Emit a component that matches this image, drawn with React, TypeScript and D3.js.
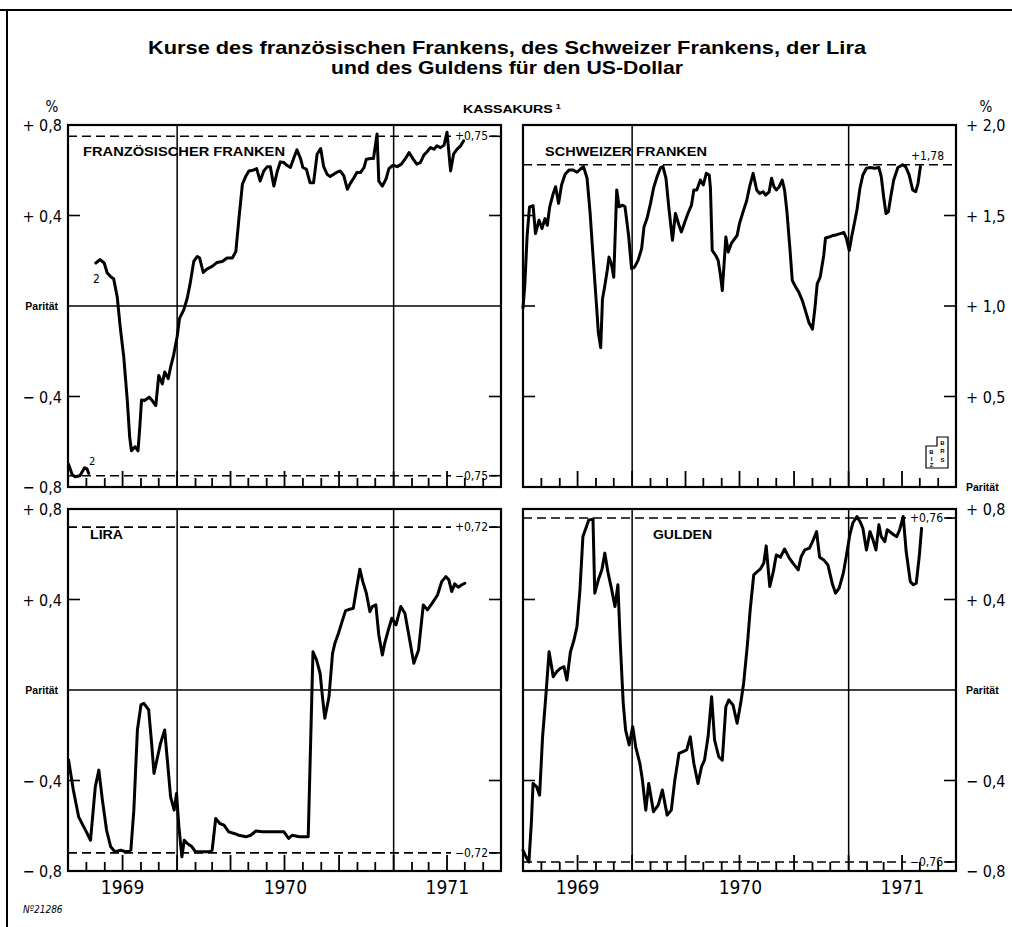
import React from 'react';
import * as d3 from 'd3';

// ---- data (weekly readings, % deviation from parity) ----
const titleLines = [
  'Kurse des französischen Frankens, des Schweizer Frankens, der Lira',
  'und des Guldens für den US-Dollar',
];
const years = ['1969', '1970', '1971'];

type Pt = [string, number];

const franzAlt: Pt[] = [
  ['1969-07-02', -0.70], ['1969-07-08', -0.745], ['1969-07-13', -0.755], ['1969-07-21', -0.75],
  ['1969-07-29', -0.715], ['1969-08-02', -0.72], ['1969-08-05', -0.74],
];

const franzNeu: Pt[] = [
  ['1969-08-17', 0.19], ['1969-08-24', 0.205], ['1969-08-31', 0.19], ['1969-09-05', 0.147],
  ['1969-09-11', 0.129], ['1969-09-16', 0.12], ['1969-09-22', 0.04], ['1969-09-27', -0.092],
  ['1969-10-03', -0.225], ['1969-10-09', -0.418], ['1969-10-13', -0.58], ['1969-10-16', -0.64],
  ['1969-10-22', -0.622], ['1969-10-27', -0.64], ['1969-10-30', -0.536], ['1969-11-02', -0.415],
  ['1969-11-07', -0.418], ['1969-11-15', -0.403], ['1969-11-20', -0.418], ['1969-11-26', -0.44],
  ['1969-12-01', -0.307], ['1969-12-07', -0.344], ['1969-12-11', -0.292], ['1969-12-17', -0.321],
  ['1969-12-21', -0.27], ['1969-12-26', -0.218], ['1970-01-01', -0.136], ['1970-01-05', -0.055],
  ['1970-01-12', -0.018], ['1970-01-18', 0.034], ['1970-01-23', 0.10], ['1970-01-29', 0.197],
  ['1970-02-04', 0.219], ['1970-02-08', 0.212], ['1970-02-14', 0.148], ['1970-02-20', 0.163],
  ['1970-03-01', 0.175], ['1970-03-09', 0.192], ['1970-03-18', 0.197], ['1970-03-26', 0.212],
  ['1970-04-04', 0.212], ['1970-04-10', 0.241], ['1970-04-15', 0.382], ['1970-04-21', 0.538],
  ['1970-04-27', 0.575], ['1970-05-02', 0.597], ['1970-05-09', 0.60], ['1970-05-15', 0.607],
  ['1970-05-21', 0.552], ['1970-05-27', 0.597], ['1970-06-02', 0.616], ['1970-06-07', 0.616],
  ['1970-06-13', 0.53], ['1970-06-19', 0.597], ['1970-06-24', 0.637], ['1970-06-30', 0.634],
  ['1970-07-05', 0.622], ['1970-07-11', 0.612], ['1970-07-17', 0.656], ['1970-07-22', 0.69],
  ['1970-07-28', 0.652], ['1970-08-01', 0.612], ['1970-08-07', 0.604], ['1970-08-13', 0.545],
  ['1970-08-19', 0.545], ['1970-08-25', 0.671], ['1970-08-31', 0.696], ['1970-09-05', 0.616],
  ['1970-09-11', 0.582], ['1970-09-16', 0.572], ['1970-09-22', 0.582], ['1970-09-28', 0.592],
  ['1970-10-03', 0.597], ['1970-10-09', 0.575], ['1970-10-15', 0.516], ['1970-10-20', 0.542],
  ['1970-10-26', 0.567], ['1970-10-31', 0.59], ['1970-11-06', 0.59], ['1970-11-12', 0.612],
  ['1970-11-16', 0.649], ['1970-11-23', 0.652], ['1970-11-28', 0.652], ['1970-12-04', 0.76],
  ['1970-12-07', 0.552], ['1970-12-13', 0.53], ['1970-12-19', 0.56], ['1970-12-24', 0.607],
  ['1970-12-31', 0.622], ['1971-01-07', 0.616], ['1971-01-14', 0.627], ['1971-01-21', 0.652],
  ['1971-01-27', 0.678], ['1971-02-03', 0.649], ['1971-02-09', 0.627], ['1971-02-15', 0.634],
  ['1971-02-21', 0.667], ['1971-02-26', 0.681], ['1971-03-04', 0.70], ['1971-03-10', 0.693],
  ['1971-03-15', 0.708], ['1971-03-21', 0.70], ['1971-03-27', 0.711], ['1971-04-01', 0.768],
  ['1971-04-07', 0.597], ['1971-04-12', 0.671], ['1971-04-18', 0.693], ['1971-04-24', 0.708],
  ['1971-04-29', 0.73],
];

const schweiz: Pt[] = [
  ['1969-07-01', 0.99], ['1969-07-04', 1.113], ['1969-07-08', 1.39], ['1969-07-12', 1.548],
  ['1969-07-18', 1.554], ['1969-07-22', 1.40], ['1969-07-28', 1.474], ['1969-08-02', 1.428],
  ['1969-08-07', 1.483], ['1969-08-11', 1.446], ['1969-08-15', 1.548], ['1969-08-21', 1.622],
  ['1969-08-25', 1.659], ['1969-08-30', 1.567], ['1969-09-04', 1.668], ['1969-09-10', 1.728],
  ['1969-09-17', 1.752], ['1969-09-23', 1.752], ['1969-09-30', 1.739], ['1969-10-06', 1.757],
  ['1969-10-11', 1.77], ['1969-10-17', 1.706], ['1969-10-22', 1.52], ['1969-10-27', 1.279],
  ['1969-11-02', 1.0], ['1969-11-05', 0.854], ['1969-11-09', 0.77], ['1969-11-12', 1.039],
  ['1969-11-16', 1.113], ['1969-11-20', 1.196], ['1969-11-23', 1.27], ['1969-11-27', 1.233],
  ['1969-12-01', 1.159], ['1969-12-06', 1.641], ['1969-12-10', 1.548], ['1969-12-16', 1.557],
  ['1969-12-20', 1.548], ['1969-12-26', 1.39], ['1969-12-31', 1.206], ['1970-01-05', 1.215],
  ['1970-01-11', 1.252], ['1970-01-17', 1.317], ['1970-01-21', 1.437], ['1970-01-26', 1.483],
  ['1970-02-01', 1.567], ['1970-02-06', 1.65], ['1970-02-12', 1.715], ['1970-02-18', 1.765],
  ['1970-02-22', 1.77], ['1970-02-27', 1.706], ['1970-03-04', 1.539], ['1970-03-10', 1.363],
  ['1970-03-15', 1.511], ['1970-03-21', 1.446], ['1970-03-25', 1.409], ['1970-03-31', 1.465],
  ['1970-04-05', 1.511], ['1970-04-11', 1.557], ['1970-04-15', 1.641], ['1970-04-20', 1.641],
  ['1970-04-26', 1.696], ['1970-05-01', 1.669], ['1970-05-06', 1.733], ['1970-05-11', 1.724],
  ['1970-05-13', 1.65], ['1970-05-16', 1.307], ['1970-05-22', 1.279], ['1970-05-26', 1.252],
  ['1970-05-30', 1.168], ['1970-06-02', 1.085], ['1970-06-08', 1.381], ['1970-06-12', 1.298],
  ['1970-06-17', 1.344], ['1970-06-23', 1.372], ['1970-06-27', 1.39], ['1970-07-01', 1.456],
  ['1970-07-07', 1.52], ['1970-07-13', 1.58], ['1970-07-18', 1.659], ['1970-07-24', 1.733],
  ['1970-07-30', 1.641], ['1970-08-04', 1.622], ['1970-08-10', 1.631], ['1970-08-14', 1.613],
  ['1970-08-20', 1.631], ['1970-08-24', 1.706], ['1970-08-28', 1.659], ['1970-09-01', 1.641],
  ['1970-09-06', 1.659], ['1970-09-11', 1.696], ['1970-09-15', 1.641], ['1970-09-19', 1.52],
  ['1970-09-24', 1.317], ['1970-09-28', 1.141], ['1970-10-04', 1.104], ['1970-10-09', 1.076],
  ['1970-10-15', 1.03], ['1970-10-21', 0.965], ['1970-10-26', 0.909], ['1970-11-01', 0.872],
  ['1970-11-05', 0.983], ['1970-11-09', 1.122], ['1970-11-14', 1.159], ['1970-11-20', 1.279],
  ['1970-11-23', 1.376], ['1970-11-29', 1.381], ['1970-12-06', 1.39], ['1970-12-12', 1.394],
  ['1970-12-18', 1.40], ['1970-12-24', 1.406], ['1970-12-28', 1.376], ['1971-01-02', 1.307],
  ['1971-01-06', 1.381], ['1971-01-10', 1.446], ['1971-01-15', 1.53], ['1971-01-20', 1.65],
  ['1971-01-25', 1.724], ['1971-01-31', 1.761], ['1971-02-07', 1.765], ['1971-02-14', 1.761],
  ['1971-02-21', 1.765], ['1971-02-25', 1.715], ['1971-03-01', 1.604], ['1971-03-05', 1.511],
  ['1971-03-09', 1.52], ['1971-03-13', 1.604], ['1971-03-18', 1.696], ['1971-03-25', 1.765],
  ['1971-04-02', 1.78], ['1971-04-07', 1.77], ['1971-04-13', 1.724], ['1971-04-19', 1.641],
  ['1971-04-24', 1.631], ['1971-04-28', 1.678], ['1971-05-02', 1.77],
];

const lira: Pt[] = [
  ['1969-07-02', -0.31], ['1969-07-10', -0.442], ['1969-07-19', -0.561], ['1969-07-26', -0.597],
  ['1969-08-01', -0.627], ['1969-08-08', -0.664], ['1969-08-16', -0.428], ['1969-08-22', -0.354],
  ['1969-08-28', -0.487], ['1969-09-04', -0.619], ['1969-09-11', -0.693], ['1969-09-18', -0.715],
  ['1969-09-28', -0.708], ['1969-10-06', -0.715], ['1969-10-15', -0.708], ['1969-10-20', -0.531],
  ['1969-10-26', -0.177], ['1969-11-01', -0.066], ['1969-11-06', -0.059], ['1969-11-14', -0.088],
  ['1969-11-19', -0.236], ['1969-11-23', -0.369], ['1969-11-29', -0.295], ['1969-12-04', -0.236],
  ['1969-12-11', -0.177], ['1969-12-16', -0.324], ['1969-12-21', -0.472], ['1969-12-27', -0.531],
  ['1969-12-31', -0.457], ['1970-01-04', -0.605], ['1970-01-09', -0.737], ['1970-01-13', -0.664],
  ['1970-01-18', -0.678], ['1970-01-26', -0.693], ['1970-02-01', -0.715], ['1970-02-13', -0.715],
  ['1970-02-24', -0.715], ['1970-03-01', -0.708], ['1970-03-07', -0.568], ['1970-03-14', -0.59],
  ['1970-03-21', -0.597], ['1970-03-29', -0.627], ['1970-04-07', -0.634], ['1970-04-15', -0.642],
  ['1970-04-27', -0.649], ['1970-05-05', -0.642], ['1970-05-14', -0.623], ['1970-05-25', -0.627],
  ['1970-06-05', -0.627], ['1970-06-16', -0.627], ['1970-06-30', -0.627], ['1970-07-08', -0.656],
  ['1970-07-14', -0.642], ['1970-07-26', -0.649], ['1970-08-05', -0.649], ['1970-08-10', -0.649],
  ['1970-08-14', -0.236], ['1970-08-18', 0.169], ['1970-08-24', 0.133], ['1970-08-30', 0.074],
  ['1970-09-03', -0.03], ['1970-09-07', -0.125], ['1970-09-14', -0.03], ['1970-09-20', 0.162],
  ['1970-09-24', 0.207], ['1970-09-30', 0.251], ['1970-10-07', 0.31], ['1970-10-12', 0.351],
  ['1970-10-19', 0.357], ['1970-10-25', 0.361], ['1970-10-30', 0.442], ['1970-11-05', 0.534],
  ['1970-11-10', 0.479], ['1970-11-16', 0.428], ['1970-11-22', 0.346], ['1970-11-26', 0.369],
  ['1970-12-02', 0.376], ['1970-12-07', 0.243], ['1970-12-13', 0.155], ['1970-12-17', 0.207],
  ['1970-12-23', 0.265], ['1970-12-29', 0.317], ['1971-01-05', 0.288], ['1971-01-13', 0.369],
  ['1971-01-20', 0.339], ['1971-01-27', 0.236], ['1971-02-04', 0.118], ['1971-02-12', 0.177],
  ['1971-02-20', 0.376], ['1971-02-27', 0.354], ['1971-03-07', 0.384], ['1971-03-16', 0.42],
  ['1971-03-23', 0.479], ['1971-03-30', 0.501], ['1971-04-04', 0.487], ['1971-04-09', 0.435],
  ['1971-04-14', 0.469], ['1971-04-20', 0.454], ['1971-04-26', 0.465], ['1971-05-01', 0.472],
];

const gulden: Pt[] = [
  ['1969-07-01', -0.708], ['1969-07-06', -0.737], ['1969-07-11', -0.76], ['1969-07-15', -0.59],
  ['1969-07-18', -0.413], ['1969-07-24', -0.428], ['1969-07-29', -0.465], ['1969-08-03', -0.207],
  ['1969-08-08', -0.044], ['1969-08-14', 0.169], ['1969-08-21', 0.059], ['1969-08-27', 0.081],
  ['1969-09-02', 0.096], ['1969-09-08', 0.103], ['1969-09-13', 0.044], ['1969-09-19', 0.169],
  ['1969-09-25', 0.221], ['1969-09-30', 0.28], ['1969-10-05', 0.442], ['1969-10-10', 0.678],
  ['1969-10-15', 0.715], ['1969-10-20', 0.752], ['1969-10-27', 0.755], ['1969-10-30', 0.428],
  ['1969-11-05', 0.487], ['1969-11-11', 0.531], ['1969-11-16', 0.605], ['1969-11-21', 0.523],
  ['1969-11-27', 0.45], ['1969-12-03', 0.369], ['1969-12-08', 0.465], ['1969-12-12', 0.207],
  ['1969-12-17', -0.059], ['1969-12-21', -0.177], ['1969-12-27', -0.243], ['1970-01-02', -0.162],
  ['1970-01-07', -0.251], ['1970-01-14', -0.324], ['1970-01-18', -0.391], ['1970-01-24', -0.531],
  ['1970-01-29', -0.413], ['1970-02-06', -0.538], ['1970-02-14', -0.509], ['1970-02-21', -0.442],
  ['1970-03-01', -0.553], ['1970-03-08', -0.531], ['1970-03-14', -0.398], ['1970-03-21', -0.28],
  ['1970-03-27', -0.273], ['1970-04-03', -0.265], ['1970-04-09', -0.207], ['1970-04-15', -0.324],
  ['1970-04-22', -0.413], ['1970-04-28', -0.339], ['1970-05-03', -0.31], ['1970-05-09', -0.207],
  ['1970-05-15', -0.03], ['1970-05-20', -0.221], ['1970-05-27', -0.295], ['1970-06-02', -0.31],
  ['1970-06-08', -0.074], ['1970-06-13', -0.044], ['1970-06-20', -0.066], ['1970-06-27', -0.147],
  ['1970-07-03', -0.059], ['1970-07-08', 0.03], ['1970-07-14', 0.192], ['1970-07-19', 0.354],
  ['1970-07-25', 0.509], ['1970-07-31', 0.523], ['1970-08-05', 0.534], ['1970-08-11', 0.561],
  ['1970-08-15', 0.637], ['1970-08-21', 0.457], ['1970-08-27', 0.523], ['1970-09-01', 0.597],
  ['1970-09-08', 0.587], ['1970-09-15', 0.623], ['1970-09-23', 0.583], ['1970-09-29', 0.561],
  ['1970-10-08', 0.531], ['1970-10-13', 0.59], ['1970-10-19', 0.619], ['1970-10-27', 0.627],
  ['1970-11-02', 0.661], ['1970-11-08', 0.70], ['1970-11-13', 0.587], ['1970-11-20', 0.575],
  ['1970-11-27', 0.553], ['1970-12-05', 0.465], ['1970-12-10', 0.428], ['1970-12-16', 0.45],
  ['1970-12-23', 0.516], ['1970-12-28', 0.59], ['1971-01-03', 0.686], ['1971-01-08', 0.738],
  ['1971-01-15', 0.767], ['1971-01-21', 0.74], ['1971-01-25', 0.715], ['1971-01-31', 0.619],
  ['1971-02-06', 0.70], ['1971-02-11', 0.664], ['1971-02-16', 0.619], ['1971-02-21', 0.73],
  ['1971-02-25', 0.678], ['1971-03-03', 0.656], ['1971-03-07', 0.708], ['1971-03-13', 0.696],
  ['1971-03-18', 0.686], ['1971-03-23', 0.678], ['1971-03-28', 0.708], ['1971-04-03', 0.767],
  ['1971-04-08', 0.612], ['1971-04-15', 0.479], ['1971-04-20', 0.465], ['1971-04-25', 0.472],
  ['1971-04-30', 0.59], ['1971-05-04', 0.715],
];

// axis labels and intervention points
const pmTicks = [0.8, 0.4, 0, -0.4, -0.8];
const pmLabels = ['+ 0,8', '+ 0,4', 'Parität', '− 0,4', '− 0,8'];
const chTicks = [2.0, 1.5, 1.0, 0.5, 0];
const chLabels = ['+ 2,0', '+ 1,5', '+ 1,0', '+ 0,5', 'Parität'];
const franzLimits = [0.75, -0.75];
const franzLimitLabels = ['+0,75', '−0,75'];
const chLimits = [1.78];
const chLimitLabels = ['+1,78'];
const liraLimits = [0.72, -0.72];
const liraLimitLabels = ['+0,72', '−0,72'];
const guldenLimits = [0.76, -0.76];
const guldenLimitLabels = ['+0,76', '−0,76'];

// ---- layout ----
const W = 433;
const H = 362;
const start = new Date(1969, 6, 1);
const end = new Date(1971, 6, 1);
const monthMarks = d3.range(1, 24).map((i) => d3.timeMonth.offset(start, i));
const parseDay = d3.timeParse('%Y-%m-%d');
const numFont = "'Liberation Sans Narrow','DejaVu Sans Condensed','Liberation Sans',sans-serif";
const boldFont = "'Liberation Sans',Arial,sans-serif";
const panelOrigins: [number, number][] = [[68, 125], [523, 125], [68, 509], [523, 509]];

type PanelProps = {
  x: number;
  y: number;
  domain: [number, number];
  ticks: number[];
  labels: string[];
  side: 'left' | 'right';
  parity: boolean;
  name: string;
  nameDx: number;
  nameDy: number;
  nameW: number;
  series: Pt[][];
  limits: number[];
  limitLabels: string[];
  limitAbove?: boolean;
  showYears: boolean;
};

const Panel = (p: PanelProps) => {
  const xs = d3.scaleTime().domain([start, end]).range([p.x, p.x + W]);
  const ys = d3.scaleLinear().domain(p.domain).range([p.y + H, p.y]);
  const line = d3
    .line<Pt>()
    .x((d) => xs(parseDay(d[0]) as Date))
    .y((d) => ys(d[1]));
  const yearLines = [new Date(1970, 0, 1), new Date(1971, 0, 1)];
  const yearBounds = [start, ...yearLines, end];
  const inner = p.ticks.filter((t) => t !== p.domain[0] && t !== p.domain[1] && t !== 0);
  const right = p.x + W;
  const bottom = p.y + H;

  return (
    <g>
      {/* intervention limits */}
      {p.limits.map((v) => (
        <line key={'l' + v} x1={p.x} x2={right} y1={ys(v)} y2={ys(v)} stroke="#000"
          strokeWidth={1.6} strokeDasharray="9,5" />
      ))}
      {p.limits.map((v, i) =>
        p.limitAbove ? (
          <text key={'lt' + v} x={right - 12} y={ys(v) - 5} textAnchor="end" fontSize={12}
            fontFamily={numFont}>{p.limitLabels[i]}</text>
        ) : (
          <g key={'lt' + v}>
            <rect x={right - 50} y={ys(v) - 6} width={38} height={12} fill="#fff" />
            <line x1={right - 10} x2={right} y1={ys(v)} y2={ys(v)} stroke="#000" strokeWidth={1.6} />
            <text x={right - 13} y={ys(v) + 4} textAnchor="end" fontSize={12}
              fontFamily={numFont}>{p.limitLabels[i]}</text>
          </g>
        ),
      )}
      {p.parity && (
        <line x1={p.x} x2={right} y1={ys(0)} y2={ys(0)} stroke="#000" strokeWidth={1.6} />
      )}
      {yearLines.map((d) => (
        <line key={'y' + d.getFullYear()} x1={xs(d)} x2={xs(d)} y1={p.y} y2={bottom} stroke="#000" strokeWidth={1.5} />
      ))}
      {inner.map((t) => (
        <g key={'it' + t}>
          <line x1={p.x} x2={p.x + 12} y1={ys(t)} y2={ys(t)} stroke="#000" strokeWidth={1.6} />
          <line x1={right - 12} x2={right} y1={ys(t)} y2={ys(t)} stroke="#000" strokeWidth={1.6} />
        </g>
      ))}
      {p.series.map((s, i) => (
        <path key={'s' + i} d={line(s) as string} fill="none" stroke="#000" strokeWidth={3}
          strokeLinejoin="round" strokeLinecap="round" />
      ))}
      <rect x={p.x} y={p.y} width={W} height={H} fill="none" stroke="#000" strokeWidth={2.2} />
      <text x={p.x + p.nameDx} y={p.y + p.nameDy} fontSize={13} fontWeight="bold" fontFamily={boldFont}
        textLength={p.nameW} lengthAdjust="spacingAndGlyphs">{p.name}</text>
      {p.ticks.map((t, i) => {
        const isPar = p.labels[i] === 'Parität';
        const tx = p.side === 'left' ? (isPar ? p.x - 10 : p.x - 6) : right + 10;
        return (
          <text key={'yl' + t} x={tx} y={ys(t) + (isPar ? 4 : 6)}
            textAnchor={p.side === 'left' ? 'end' : 'start'}
            fontSize={isPar ? 10.5 : 16} fontWeight={isPar ? 'bold' : 'normal'}
            fontFamily={isPar ? boldFont : numFont}>{p.labels[i]}</text>
        );
      })}
      {p.showYears &&
        years.map((yr, i) => (
          <text key={yr} x={(xs(yearBounds[i]) + xs(yearBounds[i + 1])) / 2} y={bottom + 23}
            textAnchor="middle" fontSize={19} fontFamily={numFont}>{yr}</text>
        ))}
    </g>
  );
};

// monthly ticks along the base of one panel, drawn on top of everything
const MonthTicks = ({ x, y }: { x: number; y: number }) => {
  const xs = d3.scaleTime().domain([start, end]).range([x, x + W]);
  const bottom = y + H;
  return (
    <g stroke="#000" strokeWidth={1.8}>
      {monthMarks.map((m, i) => (
        <line key={i} x1={xs(m)} x2={xs(m)} y1={bottom}
          y2={bottom - (m.getMonth() % 3 === 0 ? 16 : 9)} />
      ))}
    </g>
  );
};

const App = () => {
  return (
    <svg width={1012} height={927} style={{ position: 'absolute', left: 0, top: 0, background: '#fff' }}>
      <rect width={1012} height={927} fill="#fff" />
      <line x1={0} x2={1012} y1={10} y2={10} stroke="#000" strokeWidth={2} />
      <line x1={7} x2={7} y1={10} y2={927} stroke="#000" strokeWidth={2} />

      <text x={507} y={54} textAnchor="middle" fontSize={19} fontWeight="bold"
        fontFamily={boldFont} textLength={718} lengthAdjust="spacingAndGlyphs">{titleLines[0]}</text>
      <text x={507} y={74} textAnchor="middle" fontSize={19} fontWeight="bold"
        fontFamily={boldFont} textLength={352} lengthAdjust="spacingAndGlyphs">{titleLines[1]}</text>
      <text x={463} y={113} fontSize={11.5} fontWeight="bold" fontFamily={boldFont} textLength={98}
        lengthAdjust="spacingAndGlyphs">KASSAKURS<tspan fontSize={8} dy={-4}> 1</tspan></text>
      <text x={52} y={112} textAnchor="middle" fontSize={15} fontFamily={numFont}>%</text>
      <text x={986} y={112} textAnchor="middle" fontSize={15} fontFamily={numFont}>%</text>

      <Panel x={68} y={125} domain={[-0.8, 0.8]} ticks={pmTicks} labels={pmLabels} side="left" parity
        name="FRANZÖSISCHER FRANKEN" nameDx={15} nameDy={31} nameW={202}
        series={[franzAlt, franzNeu]} limits={franzLimits} limitLabels={franzLimitLabels} showYears={false} />
      <Panel x={523} y={125} domain={[0, 2]} ticks={chTicks} labels={chLabels} side="right" parity={false}
        name="SCHWEIZER FRANKEN" nameDx={22} nameDy={31} nameW={162}
        series={[schweiz]} limits={chLimits} limitLabels={chLimitLabels} limitAbove showYears={false} />
      <Panel x={68} y={509} domain={[-0.8, 0.8]} ticks={pmTicks} labels={pmLabels} side="left" parity
        name="LIRA" nameDx={22} nameDy={30} nameW={33}
        series={[lira]} limits={liraLimits} limitLabels={liraLimitLabels} showYears />
      <Panel x={523} y={509} domain={[-0.8, 0.8]} ticks={pmTicks} labels={pmLabels} side="right" parity
        name="GULDEN" nameDx={130} nameDy={30} nameW={59}
        series={[gulden]} limits={guldenLimits} limitLabels={guldenLimitLabels} showYears />

      {panelOrigins.map(([x, y]) => (
        <MonthTicks key={`${x}-${y}`} x={x} y={y} />
      ))}

      {/* footnote markers for the French franc devaluation */}
      <text x={93} y={283} fontSize={12} fontFamily={numFont}>2</text>
      <text x={89} y={465} fontSize={11} fontFamily={numFont}>2</text>

      {/* BIZ mark */}
      <g fontFamily={boldFont} fontSize={6} fontWeight="bold" textAnchor="middle">
        <path d="M926,446 H937 V437 H948 V468 H926 Z" fill="none" stroke="#000" strokeWidth={1.2} />
        <text x={931.5} y={454}>B</text>
        <text x={931.5} y={461}>I</text>
        <text x={931.5} y={467}>Z</text>
        <text x={942.5} y={445}>B</text>
        <text x={942.5} y={453}>R</text>
        <text x={942.5} y={462}>S</text>
      </g>

      <text x={23} y={913} fontSize={10} fontStyle="italic" fontFamily={numFont}>Nº21286</text>
    </svg>
  );
};

export default App;
